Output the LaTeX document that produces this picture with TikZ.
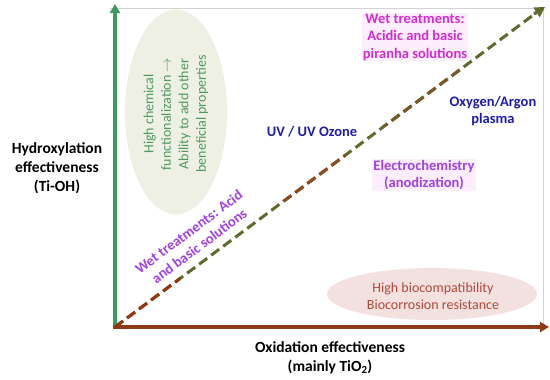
\documentclass[tikz,border=0pt]{standalone}
\usepackage{fontspec}
\setmainfont{Carlito}
\usetikzlibrary{arrows.meta,shapes.geometric}
\definecolor{axgreen}{HTML}{3C9A5C}
\definecolor{axbrown}{HTML}{8E3A14}
\definecolor{dolive}{HTML}{5F6A2C}
\definecolor{dbrown}{HTML}{8A4A22}
\definecolor{elgreen}{HTML}{EEF0E3}
\definecolor{elpink}{HTML}{F3E1E0}
\definecolor{txgreen}{HTML}{4E9A5E}
\definecolor{txred}{HTML}{B0493A}
\definecolor{txmag}{HTML}{D42BD4}
\definecolor{txblue}{HTML}{1C1CB0}
\definecolor{txviolet}{HTML}{A040E0}
\definecolor{hlpink}{HTML}{FDEEFD}
\tikzset{
  axlabel/.style={font=\fontsize{15.5}{19}\selectfont\bfseries, align=center, inner sep=0},
  lbl/.style={font=\fontsize{14.5}{17.5}\selectfont\bfseries, align=center, inner sep=1pt},
  soft/.style={font=\fontsize{14}{17.5}\selectfont, align=center, inner sep=0},
  dline/.style={line width=3pt, dash pattern=on 10pt off 5pt},
}
\begin{document}
\begin{tikzpicture}[x=1pt,y=-1pt]
\useasboundingbox (0,0) rectangle (550,380);
% frame
\draw[gray!35, line width=0.8pt] (110,8) -- (543,8) -- (543,327);
% ellipses
\node[fill=elgreen, ellipse, minimum width=102pt, minimum height=205pt, inner sep=0] (eg) at (176,112) {};
\node[fill=elpink, ellipse, minimum width=210pt, minimum height=52pt, inner sep=0] (ep) at (432,294) {};
\node[soft, text=txgreen, rotate=90] (gt) at (176,114) {High chemical\\functionalization $\rightarrow$\\Ability to add other\\beneficial properties};
\node[soft, text=txred] (pt) at (433,296) {High biocompatibility\\Biocorrosion resistance};
% axes
\coordinate (o) at (115,327);
\coordinate (ytop) at (115,4);
\coordinate (xend) at (549,327);
\coordinate (dend) at (545,7);
\draw[axgreen, line width=3.5pt, -{Triangle[length=9pt,width=10pt]}] (115,329) -- (ytop);
\draw[axbrown, line width=3.5pt, -{Triangle[length=9pt,width=10pt]}] (113,327) -- (xend);
% diagonal dashed
\draw[dolive, dline] (o) -- (536,13);
\begin{scope}
  \clip (110,270) rectangle (180,335);
  \draw[axbrown!90!red, dline] (o) -- (536,13);
\end{scope}
\begin{scope}
  \clip (262,120) rectangle (345,200);
  \draw[dbrown, dline] (o) -- (536,13);
\end{scope}
\begin{scope}
  \clip (345,50) rectangle (460,125);
  \draw[dbrown!60!dolive, dline] (o) -- (536,13);
\end{scope}
\draw[dolive, line width=3pt, -{Triangle[length=10pt,width=11pt]}] (534,14) -- (dend);
% labels
\node[axlabel] (yl) at (57,168) {Hydroxylation\\effectiveness\\(Ti-OH)};
\node[axlabel] (xl) at (330,358) {Oxidation effectiveness\\(mainly TiO\textsubscript{2})};
\node[lbl, text=txmag, fill=hlpink] (wt1) at (415,37) {Wet treatments:\\Acidic and basic\\piranha solutions};
\node[lbl, text=txblue] (oa) at (493,111) {Oxygen/Argon\\plasma};
\node[lbl, text=txblue] (uv) at (312,132) {UV / UV Ozone};
\node[lbl, text=txviolet, fill=hlpink] (ec) at (424,175) {Electrochemistry\\(anodization)};
\node[lbl, text=txviolet, inner sep=0, rotate=36.7] (wt2) at (194,239) {Wet treatments: Acid\\and basic solutions};
\end{tikzpicture}
\end{document}
